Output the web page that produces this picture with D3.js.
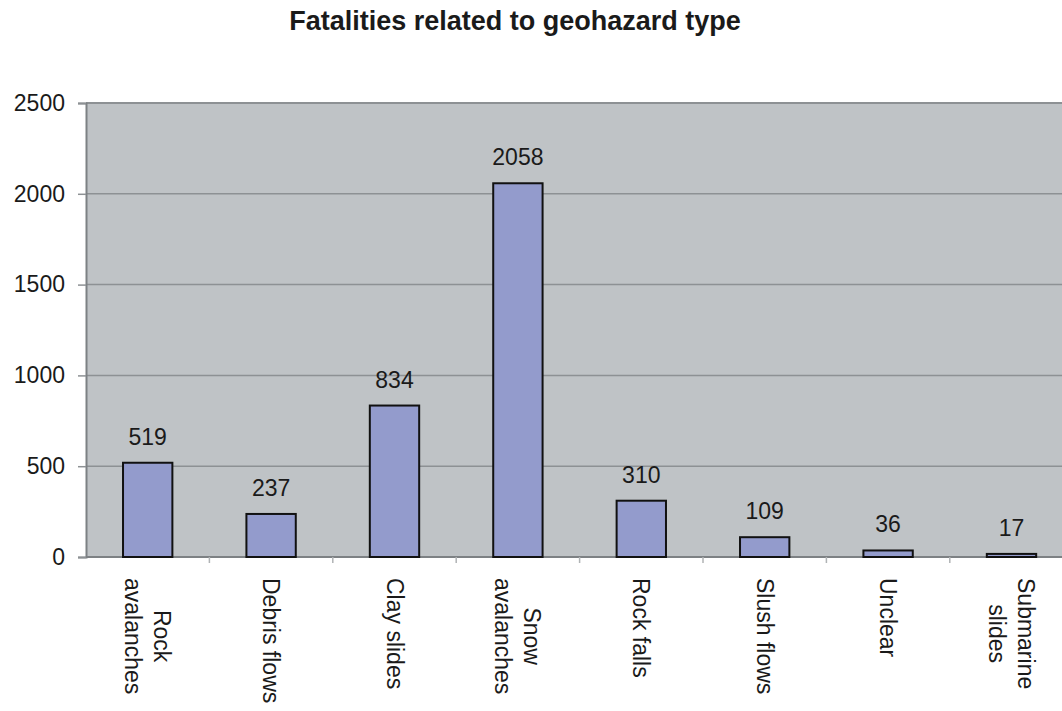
<!DOCTYPE html>
<html>
<head>
<meta charset="utf-8">
<script src="https://cdn.jsdelivr.net/npm/d3@7"></script>
<style>
  body { margin: 0; background: #fff; }
  svg { display: block; font-family: "Liberation Sans", Arial, sans-serif; }
</style>
</head>
<body>
<svg id="chart" width="1062" height="711"></svg>
<script>
"use strict";

// data
const categories = ["Rock avalanches", "Debris flows", "Clay slides", "Snow avalanches",
                    "Rock falls", "Slush flows", "Unclear", "Submarine slides"];
const labelLines = [["Rock", "avalanches"], ["Debris flows"], ["Clay slides"], ["Snow", "avalanches"],
                    ["Rock falls"], ["Slush flows"], ["Unclear"], ["Submarine", "slides"]];
const fatalities = [519, 237, 834, 2058, 310, 109, 36, 17];
const yTicks = [0, 500, 1000, 1500, 2000, 2500];

(function() {
  const svg = d3.select("#chart");

  const plotLeft = 86, plotTop = 103, plotBottom = 557;
  const step = 123.4;
  const plotRight = plotLeft + step * categories.length;

  const x = d3.scaleBand().domain(categories).range([plotLeft, plotRight]).padding(0);
  const y = d3.scaleLinear().domain([0, 2500]).range([plotBottom, plotTop]);

  // title
  svg.append("text")
    .attr("x", 515)
    .attr("y", 30)
    .attr("text-anchor", "middle")
    .attr("font-size", 27)
    .attr("font-weight", "bold")
    .attr("fill", "#1a1a1a")
    .text("Fatalities related to geohazard type");

  // plot background
  svg.append("rect")
    .attr("x", plotLeft).attr("y", plotTop)
    .attr("width", plotRight - plotLeft).attr("height", plotBottom - plotTop)
    .attr("fill", "#bfc3c6");

  // gridlines
  svg.append("g")
    .selectAll("line")
    .data(yTicks.filter(d => d > 0))
    .enter().append("line")
      .attr("x1", plotLeft).attr("x2", plotRight)
      .attr("y1", d => y(d)).attr("y2", d => y(d))
      .attr("stroke", "#8d9194")
      .attr("stroke-width", d => d === 2500 ? 2 : 1.5);

  // y axis
  const yAxis = svg.append("g")
    .attr("transform", "translate(" + plotLeft + ",0)")
    .call(d3.axisLeft(y).tickValues(yTicks).tickFormat(d3.format("d")).tickSize(8).tickPadding(13));
  yAxis.select(".domain").attr("stroke", "#7d8184").attr("stroke-width", 2);
  yAxis.selectAll(".tick line").attr("stroke", "#8d9194").attr("stroke-width", 1.5);
  yAxis.selectAll(".tick text")
    .attr("font-size", 23)
    .attr("fill", "#1a1a1a")
    .attr("font-family", "'Liberation Sans', Arial, sans-serif");

  // x axis line + ticks between categories
  const xAxis = svg.append("g");
  xAxis.append("line")
    .attr("x1", plotLeft).attr("x2", plotRight)
    .attr("y1", plotBottom).attr("y2", plotBottom)
    .attr("stroke", "#7d8184").attr("stroke-width", 2);
  xAxis.selectAll(".sep")
    .data(categories.slice(1))
    .enter().append("line")
      .attr("class", "sep")
      .attr("x1", d => x(d)).attr("x2", d => x(d))
      .attr("y1", plotBottom).attr("y2", plotBottom + 6)
      .attr("stroke", "#b0b3b5").attr("stroke-width", 1.5);

  // bars
  const barW = x.bandwidth() * 0.4;
  svg.append("g")
    .selectAll("rect")
    .data(fatalities)
    .enter().append("rect")
      .attr("x", (d, i) => x(categories[i]) + (x.bandwidth() - barW) / 2)
      .attr("y", d => y(d))
      .attr("width", barW)
      .attr("height", d => plotBottom - y(d))
      .attr("fill", "#939bcc")
      .attr("stroke", "#111")
      .attr("stroke-width", 2);

  // value labels
  svg.append("g")
    .selectAll("text")
    .data(fatalities)
    .enter().append("text")
      .attr("x", (d, i) => x(categories[i]) + x.bandwidth() / 2)
      .attr("y", d => y(d) - 18)
      .attr("text-anchor", "middle")
      .attr("font-size", 23)
      .attr("fill", "#1a1a1a")
      .text(d => d);

  // rotated category labels
  const lineGap = 29;
  const catG = svg.append("g")
    .selectAll("g")
    .data(labelLines)
    .enter().append("g")
      .attr("transform", (d, i) => "translate(" + (x(categories[i]) + x.bandwidth() / 2) + ",578) rotate(90)");

  catG.each(function(lines) {
    const g = d3.select(this);
    const texts = lines.map((ln, j) => g.append("text")
      .attr("font-size", 23)
      .attr("fill", "#1a1a1a")
      .attr("dominant-baseline", "central")
      .attr("y", (j - (lines.length - 1) / 2) * lineGap)
      .text(ln));
    const maxLen = d3.max(texts, t => t.node().getComputedTextLength());
    texts.forEach(t => t.attr("x", maxLen / 2).attr("text-anchor", "middle"));
  });
})();
</script>
</body>
</html>
